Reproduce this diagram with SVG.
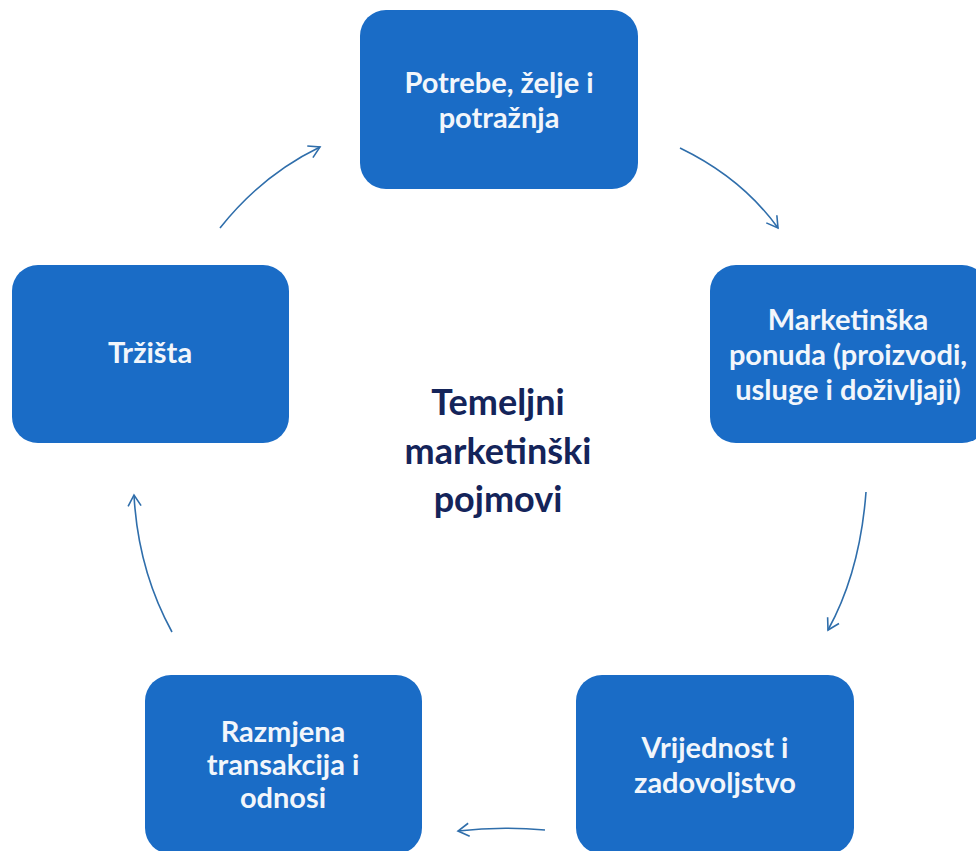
<svg xmlns="http://www.w3.org/2000/svg" width="976" height="851" viewBox="0 0 976 851">
<defs>
<style>
.box{fill:#1a6cc6;}
.lbl{font-family:Lato,"Open Sans","Liberation Sans",sans-serif;font-weight:bold;font-size:29px;fill:#f2f6fb;text-anchor:middle;}
.ctr{font-family:Lato,"Open Sans","Liberation Sans",sans-serif;font-weight:bold;font-size:36px;fill:#14245a;text-anchor:middle;}
.arr{fill:none;stroke:#2f6eab;stroke-width:1.6;marker-end:url(#ah);}
</style>
<marker id="ah" markerUnits="userSpaceOnUse" markerWidth="16" markerHeight="16" refX="13" refY="8" orient="auto">
<path d="M2,1.5 L13,8 L2,14.5" fill="none" stroke="#2f6eab" stroke-width="1.6"/>
</marker>
</defs>
<rect width="976" height="851" fill="#ffffff"/>
<g id="connectors">
<path class="arr" d="M680,148 Q742,178 778,228"/>
<path class="arr" d="M866,492 Q860,572 828,630"/>
<path class="arr" d="M545,830 Q500,826 458,831"/>
<path class="arr" d="M172,632 Q138,570 134,495"/>
<path class="arr" d="M220,228 Q262,175 320,147"/>
</g>
<g id="node-potrebe">
<rect class="box" x="360" y="10" width="278" height="179" rx="26"/>
<text class="lbl" x="499" y="93">Potrebe, želje i</text>
<text class="lbl" x="499" y="128">potražnja</text>
</g>
<g id="node-ponuda">
<rect class="box" x="710" y="265" width="278" height="178" rx="26"/>
<text class="lbl" x="848" y="330">Marketinška</text>
<text class="lbl" x="848" y="365">ponuda (proizvodi,</text>
<text class="lbl" x="848" y="400">usluge i doživljaji)</text>
</g>
<g id="node-vrijednost">
<rect class="box" x="576" y="675" width="278" height="179" rx="26"/>
<text class="lbl" x="715" y="758">Vrijednost i</text>
<text class="lbl" x="715" y="793">zadovoljstvo</text>
</g>
<g id="node-razmjena">
<rect class="box" x="145" y="675" width="277" height="179" rx="26"/>
<text class="lbl" x="283" y="742">Razmjena</text>
<text class="lbl" x="283" y="775">transakcija i</text>
<text class="lbl" x="283" y="808">odnosi</text>
</g>
<g id="node-trzista">
<rect class="box" x="12" y="265" width="277" height="178" rx="26"/>
<text class="lbl" x="150" y="363">Tržišta</text>
</g>
<g id="center-title">
<text class="ctr" x="498" y="415">Temeljni</text>
<text class="ctr" x="498" y="464">marketinški</text>
<text class="ctr" x="498" y="512">pojmovi</text>
</g>
</svg>
